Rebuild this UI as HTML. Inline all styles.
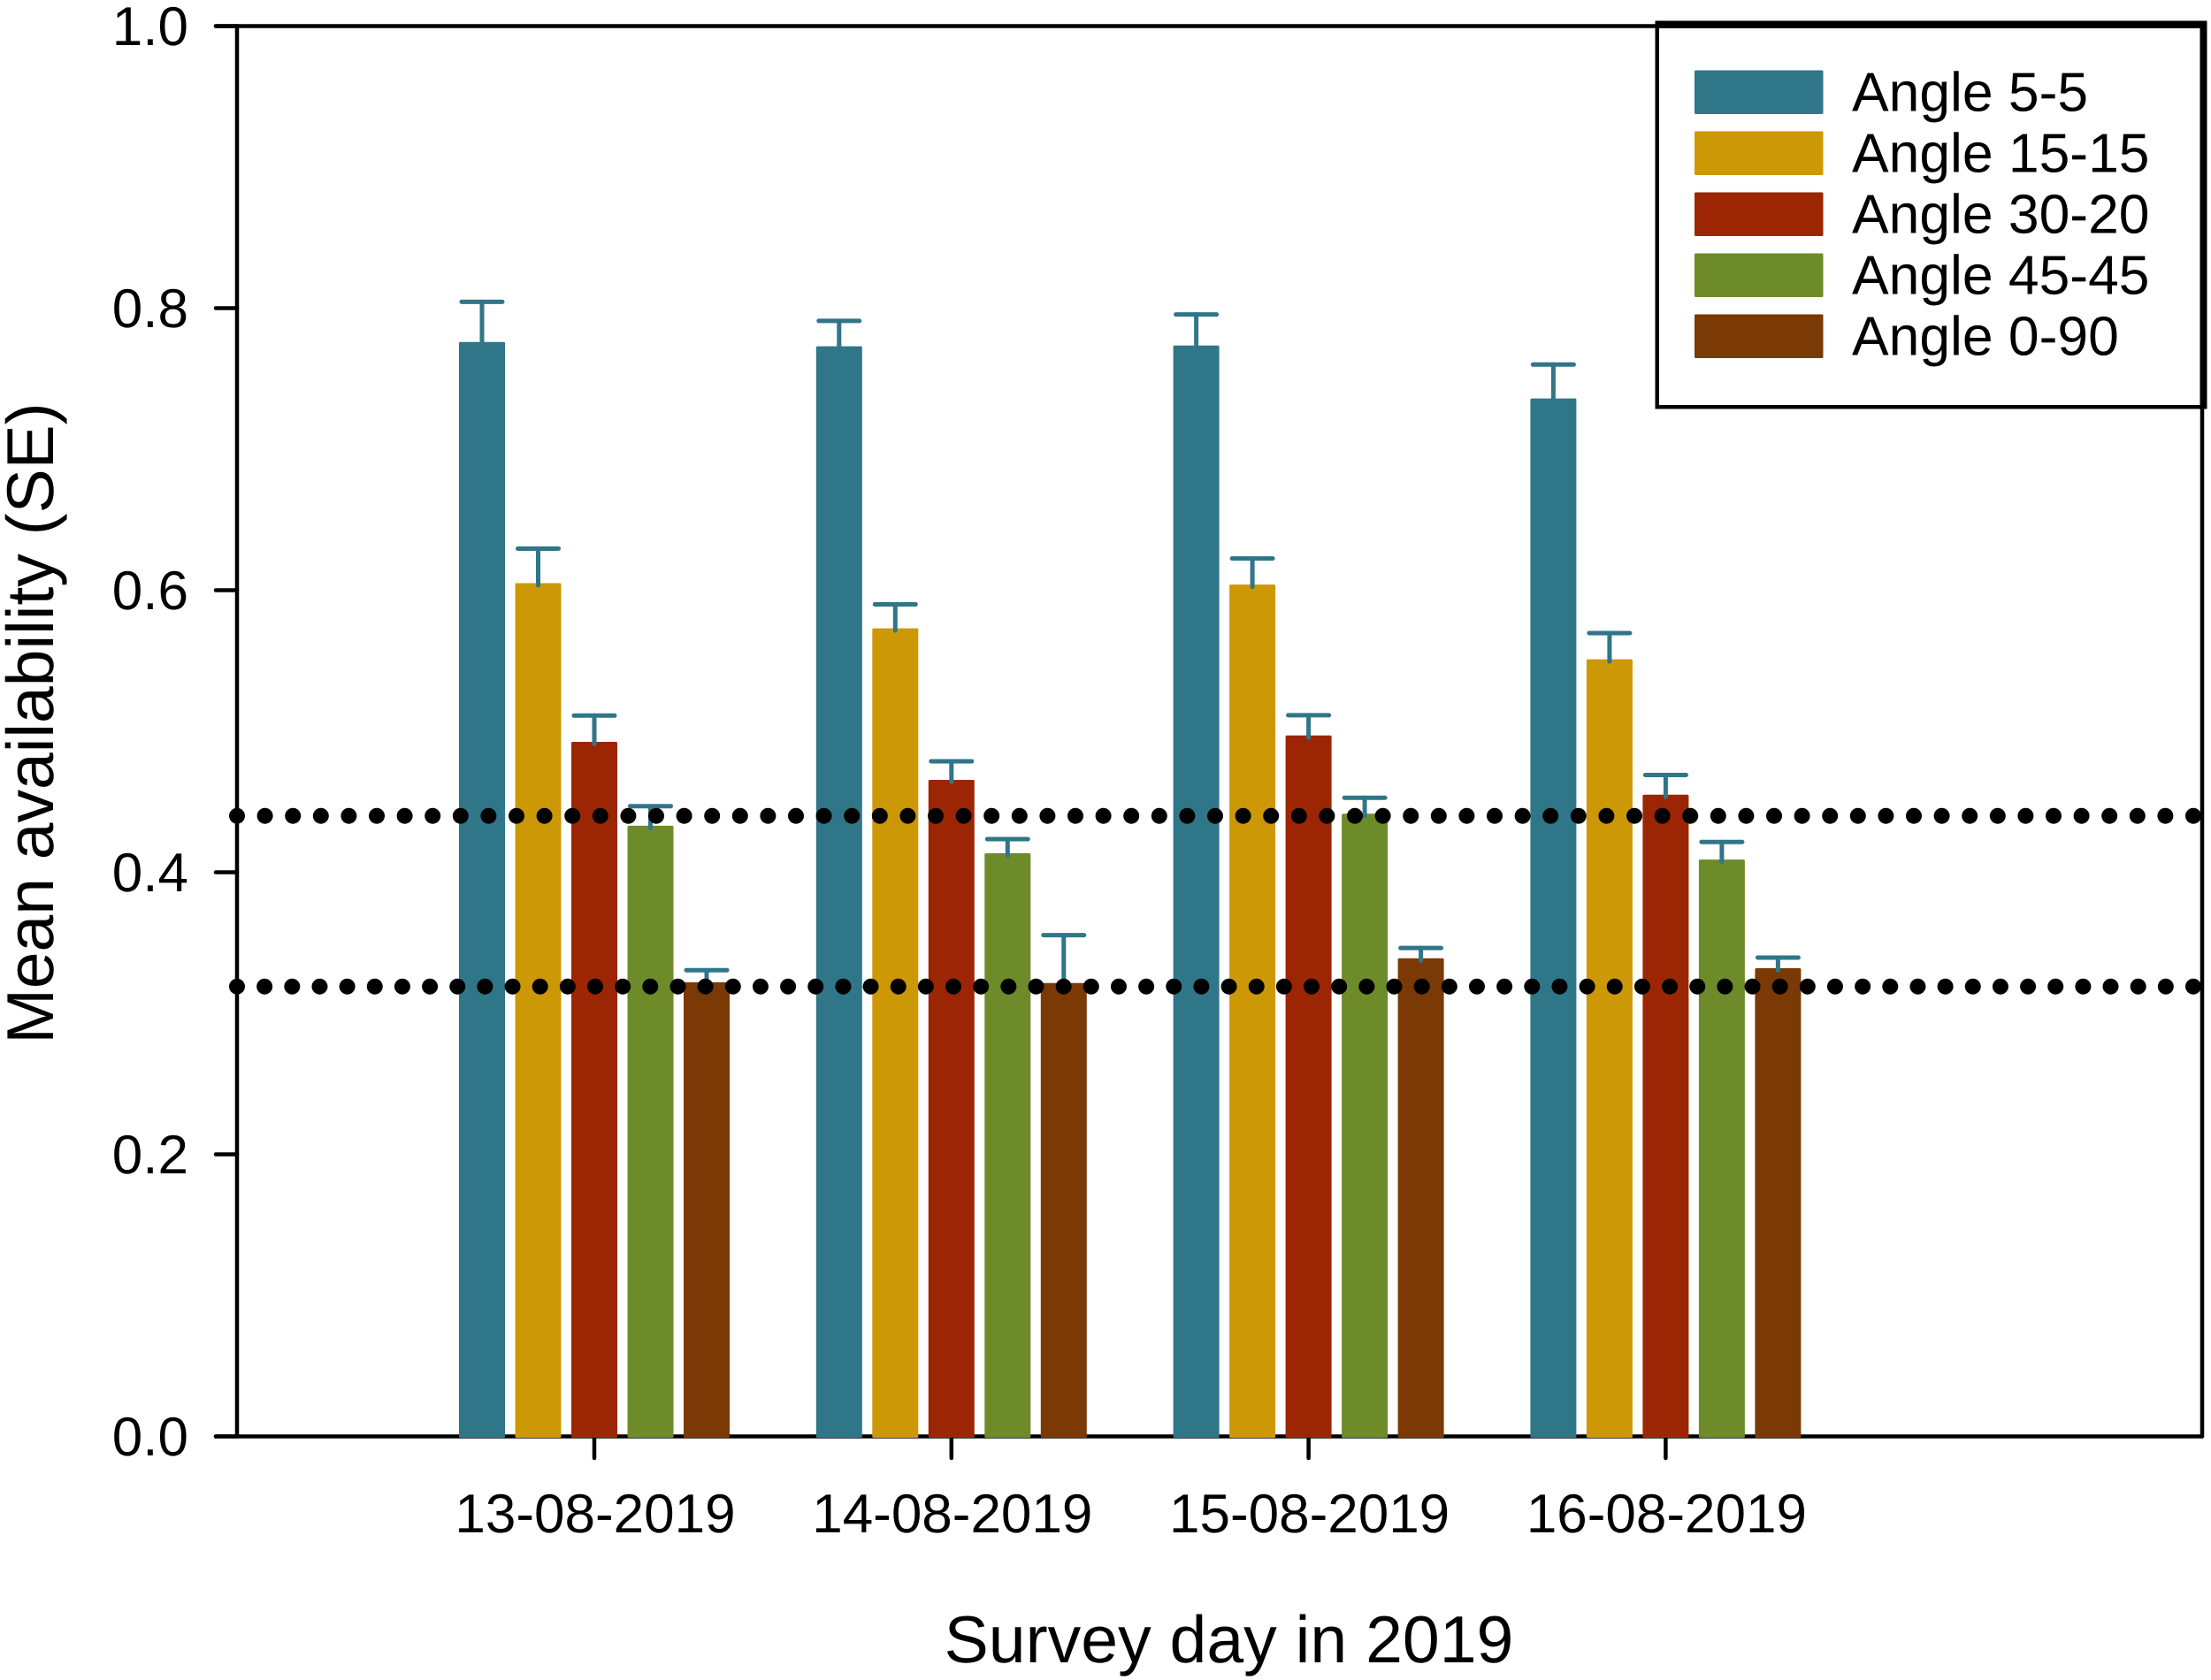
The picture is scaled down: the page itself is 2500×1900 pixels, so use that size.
<!DOCTYPE html>
<html lang="en">
<head>
<meta charset="utf-8">
<title>Mean availability by survey day</title>
<style>
html,body{margin:0;padding:0;background:#fff;}
svg{display:block;}
text{font-family:"Liberation Sans",Arial,sans-serif;fill:#000;text-rendering:geometricPrecision;}
</style>
</head>
<body>
<svg id="chart" xmlns="http://www.w3.org/2000/svg" width="2500" height="1900" viewBox="0 0 2500 1900">
  <rect x="0" y="0" width="2500" height="1900" fill="#ffffff"/>
  <g id="axes"></g>
  <g id="marks"></g>
  <g id="refs"></g>
  <g id="legend"></g>
  <text x="1389.5" y="1880" font-size="75.2" text-anchor="middle">Survey day in 2019</text>
  <text transform="translate(60 818) rotate(-90)" font-size="75" text-anchor="middle">Mean availability (SE)</text>
</svg>
<script>
const categories = ['13-08-2019', '14-08-2019', '15-08-2019', '16-08-2019'];
const seriesNames = ['Angle 5-5', 'Angle 15-15', 'Angle 30-20', 'Angle 45-45', 'Angle 0-90'];
const seriesColors = ['#2f7688', '#cd9806', '#9c2603', '#6e8b2a', '#7a3905'];
const angle5 = [0.776, 0.773, 0.7735, 0.736];
const angle15 = [0.605, 0.573, 0.604, 0.551];
const angle30 = [0.4925, 0.4655, 0.497, 0.455];
const angle45 = [0.433, 0.4135, 0.4415, 0.409];
const angle0 = [0.322, 0.3215, 0.339, 0.332];
const angle5Err = [0.0285, 0.018, 0.022, 0.024];
const angle15Err = [0.0245, 0.017, 0.0185, 0.0186];
const angle30Err = [0.0186, 0.0132, 0.0144, 0.014];
const angle45Err = [0.0139, 0.01, 0.0113, 0.0125];
const angle0Err = [0.0086, 0.0339, 0.0073, 0.0075];
const referenceValues = [0.44, 0.319];
const referenceDotCounts = [70, 71];
const yTicks = [0, 0.2, 0.4, 0.6, 0.8, 1.0];
const yTickLabels = ['0.0', '0.2', '0.4', '0.6', '0.8', '1.0'];

const seriesValues = [angle5, angle15, angle30, angle45, angle0];
const seriesErrors = [angle5Err, angle15Err, angle30Err, angle45Err, angle0Err];

const NS = 'http://www.w3.org/2000/svg';
const plot = {left: 268, right: 2490, top: 29.5, bottom: 1624.5};
function yScale(v) { return plot.bottom - v * (plot.bottom - plot.top); }
function xScale(i) { return 672 + i * 403.8; }
const barPitch = 63.5;
const barWidth = 52;
const capWidth = 46;

function make(parent, tag, attrs, content) {
  const el = document.createElementNS(NS, tag);
  for (const k in attrs) el.setAttribute(k, attrs[k]);
  if (content !== undefined) el.textContent = content;
  parent.appendChild(el);
  return el;
}

const axes = document.getElementById('axes');
const marks = document.getElementById('marks');
const refs = document.getElementById('refs');
const legend = document.getElementById('legend');
const axisStyle = {stroke: '#000', 'stroke-width': 4.5, 'stroke-linecap': 'round', fill: 'none'};

let el = make(axes, 'line', Object.assign({x1: plot.left, y1: plot.top, x2: plot.left, y2: plot.bottom}, axisStyle));


el = make(axes, 'line', Object.assign({x1: plot.right, y1: plot.top, x2: plot.right, y2: plot.bottom}, axisStyle));


el = make(axes, 'line', Object.assign({x1: 244, y1: plot.top, x2: plot.right, y2: plot.top}, axisStyle));


el = make(axes, 'line', Object.assign({x1: 244, y1: plot.bottom, x2: plot.right, y2: plot.bottom}, axisStyle));



yTicks.forEach(function (t, i) {
  const y = yScale(t);
  let m = make(axes, 'line', Object.assign({x1: 244, y1: y, x2: plot.left, y2: y}, axisStyle));
  
  
  m = make(axes, 'text', {x: 213, y: y + 21.5, 'font-size': 62, 'text-anchor': 'end'}, yTickLabels[i]);
  
  
});

categories.forEach(function (c, i) {
  const x = xScale(i);
  let m = make(axes, 'line', Object.assign({x1: x, y1: plot.bottom, x2: x, y2: 1649}, axisStyle));
  
  
  m = make(axes, 'text', {x: x + 1, y: 1733, 'font-size': 62, 'text-anchor': 'middle'}, c);
  
  
});

seriesValues.forEach(function (vals, s) {
  vals.forEach(function (v, i) {
    const cx = xScale(i) + (s - 2) * barPitch;
    const top = yScale(v);
    const errTop = yScale(v + seriesErrors[s][i]);
    const bar = make(marks, 'rect', {x: cx - barWidth / 2, y: top, width: barWidth, height: plot.bottom + 1.5 - top, rx: 1.5, fill: seriesColors[s]});
    
    
    const stem = make(marks, 'line', {x1: cx, y1: top + 2.5, x2: cx, y2: errTop, stroke: '#2f7688', 'stroke-width': 5, 'stroke-linecap': 'round'});
    
    
    const cap = make(marks, 'line', {x1: cx - capWidth / 2, y1: errTop, x2: cx + capWidth / 2, y2: errTop, stroke: '#2f7688', 'stroke-width': 5, 'stroke-linecap': 'round'});
    
    
  });
});

referenceValues.forEach(function (v, i) {
  const y = yScale(v);
  const pitch = 2212 / referenceDotCounts[i];
  const ln = make(refs, 'line', {x1: plot.left, y1: y, x2: 2481, y2: y, stroke: '#000', 'stroke-width': 18, 'stroke-linecap': 'round', 'stroke-dasharray': '0 ' + pitch});
  
  
});

let frame = make(legend, 'rect', {x: 1871.5, y: 23.5, width: 624, height: 439, fill: '#000'});


frame = make(legend, 'rect', {x: 1876, y: 32, width: 611.5, height: 426, fill: '#fff'});



seriesNames.forEach(function (n, i) {
  const top = 79.5 + i * 69;
  const sw = make(legend, 'rect', {x: 1916, y: top, width: 145.5, height: 49.5, rx: 1.5, fill: seriesColors[i]});
  
  
  const tx = make(legend, 'text', {x: 2094, y: top + 46, 'font-size': 62.4}, n);
  
  
});
</script>
</body>
</html>
